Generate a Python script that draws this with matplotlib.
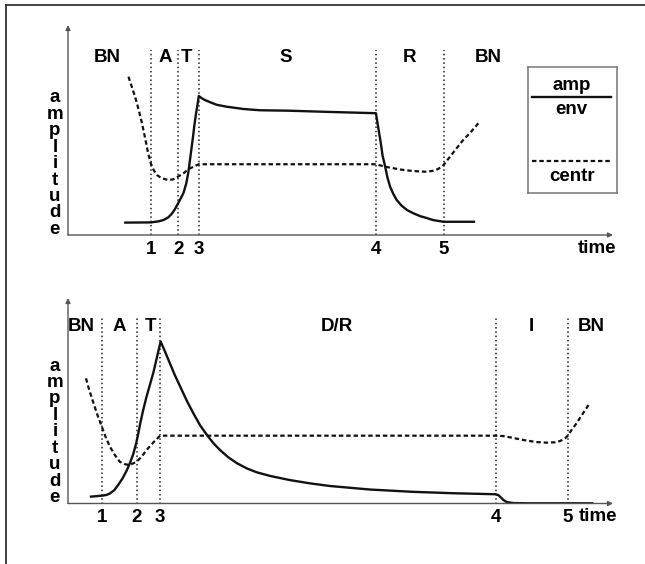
import matplotlib
matplotlib.use("Agg")
import matplotlib.pyplot as plt
from matplotlib.lines import Line2D

plt.rcParams['font.family'] = ['Liberation Sans', 'DejaVu Sans']
plt.rcParams['font.weight'] = 'bold'

# ---- top panel: sustained sound ----
top_marks = [15.2, 20.2, 24.0, 56.5, 68.9]
top_mark_labels = ['1', '2', '3', '4', '5']
top_phases = ['BN', 'A', 'T', 'S', 'R', 'BN']
top_phase_x = [7.2, 17.8, 21.8, 40.0, 62.6, 77.2]

top_env_t = [10.3, 15.2, 16.6, 17.5, 18.4, 19.0, 19.6, 20.2, 20.7, 21.2, 21.7, 22.1,
             22.5, 22.9, 23.2, 23.5, 23.8, 24.0,
             24.5, 25.1, 26.1, 27.3, 29.1, 32.2, 35.2, 40.4, 48.0, 56.5,
             56.8, 57.1, 57.4, 57.7, 58.2, 58.6, 59.1, 59.7, 60.3, 61.2, 62.2, 63.4,
             64.6, 65.8, 67.0, 68.9, 74.7]
top_env_a = [5.9, 6.0, 6.5, 7.1, 8.4, 10.0, 12.2, 15.1, 17.5, 20.1, 24.6, 30.1,
             38.1, 46.0, 52.4, 58.0, 62.7, 66.2,
             65.2, 64.3, 63.2, 62.0, 61.1, 60.0, 59.4, 59.2, 58.6, 58.0,
             53.2, 48.4, 43.7, 38.1, 32.5, 27.5, 23.0, 19.5, 16.7, 14.0, 11.9, 10.3,
             9.0, 8.1, 7.1, 6.3, 6.3]

top_cen_t = [11.1, 11.7, 12.3, 12.9, 13.5, 14.1, 14.7, 15.2, 15.7, 16.3, 17.2, 18.4,
             19.3, 20.2, 21.2, 22.1, 23.0, 24.0,
             56.5, 58.2, 59.7, 61.2, 62.8, 64.3, 65.8, 67.0, 67.9, 68.9, 70.1, 71.3,
             72.5, 73.8, 75.3]
top_cen_a = [75.4, 70.6, 65.9, 60.3, 54.0, 46.8, 38.9, 34.1, 31.0, 28.6, 27.0, 26.2,
             26.5, 27.8, 29.4, 31.3, 32.5, 33.7,
             33.7, 32.5, 31.8, 31.1, 30.6, 30.3, 30.1, 30.6, 31.4, 33.3, 37.3, 41.3,
             45.2, 48.7, 53.2]

# ---- bottom panel: percussive sound ----
bot_marks = [6.2, 12.6, 16.9, 78.5, 91.7]
bot_mark_labels = ['1', '2', '3', '4', '5']
bot_phases = ['BN', 'A', 'T', 'D/R', 'I', 'BN']
bot_phase_x = [2.4, 9.4, 15.1, 49.4, 85.0, 96.0]

bot_env_t = [4.0, 6.2, 7.1, 7.7, 8.5, 9.2, 10.0, 10.8, 11.4, 12.0, 12.5, 12.9, 13.3,
             13.8, 14.4, 15.1, 15.7, 16.2, 16.6, 17.0,
             17.8, 18.7, 19.6, 20.6, 21.8, 23.0, 24.2, 25.5, 26.7, 27.9, 29.4, 31.0,
             32.8, 34.6, 37.1, 40.7, 44.4, 48.1, 55.4, 63.1, 70.6, 78.5,
             79.0, 79.4, 79.9, 80.5, 81.7, 84.2, 96.4]
bot_env_a = [3.3, 3.8, 4.2, 4.9, 6.5, 9.0, 12.2, 16.2, 19.9, 24.3, 29.2, 34.1, 39.6,
             45.5, 51.9, 58.4, 64.1, 69.8, 74.4, 78.8,
             73.9, 68.2, 62.5, 56.8, 50.0, 43.9, 38.2, 33.3, 29.3, 26.0, 22.5, 19.6,
             17.1, 15.2, 13.4, 11.4, 9.8, 8.5, 6.8, 5.7, 5.0, 4.5,
             4.0, 3.0, 1.7, 0.7, 0.2, 0.1, 0.1]

bot_cen_t = [3.3, 3.9, 4.6, 5.4, 6.2, 7.0, 7.7, 8.6, 9.5, 10.5, 11.3, 12.0, 12.6,
             13.5, 14.7, 15.8, 16.9,
             78.5, 79.9, 81.1, 82.6, 84.2, 86.0, 87.8, 89.4, 90.3, 91.2, 91.7, 92.4,
             93.3, 94.3, 95.5]
bot_cen_a = [60.9, 55.2, 49.5, 43.1, 37.4, 31.7, 27.6, 23.6, 20.3, 19.1, 18.7, 19.6,
             20.3, 22.8, 26.9, 30.1, 33.0,
             33.0, 32.8, 32.2, 31.4, 30.6, 29.9, 29.6, 29.8, 30.4, 31.7, 33.0, 35.8,
             39.0, 43.1, 47.9]

FS = 13.5
W, H = 645, 564

fig = plt.figure(figsize=(W / 100, H / 100), dpi=100)
fig.patch.set_facecolor('white')

# frame lines of the original picture (top and left edge)
fig.add_artist(Line2D([6 / W, 1], [1 - 5 / H, 1 - 5 / H], transform=fig.transFigure,
                      color='#333333', lw=1.3))
fig.add_artist(Line2D([6 / W, 6 / W], [0, 1 - 5 / H], transform=fig.transFigure,
                      color='#333333', lw=1.3))


def draw_panel(rect, marks, mark_labels, phases, phase_x, phase_y, vtop,
               env_t, env_a, cen_t, cen_a, time_sep):
    ax = fig.add_axes(rect)
    ax.set_xlim(0, 100)
    ax.set_ylim(0, 100)
    for s in ax.spines.values():
        s.set_visible(False)
    ax.set_yticks([])
    ax.set_xticks(marks)
    ax.set_xticklabels(mark_labels, fontsize=FS, fontweight='bold')
    ax.tick_params(axis='x', length=0, pad=4)
    ax.patch.set_alpha(0)

    # axis arrows
    arr = dict(arrowstyle='-|>', lw=1.0, color='#555555', mutation_scale=7,
               shrinkA=0, shrinkB=0)
    ax.annotate('', xy=(1, 0), xytext=(0, 0), xycoords='axes fraction', arrowprops=arr)
    ax.annotate('', xy=(0, 1), xytext=(0, 0), xycoords='axes fraction', arrowprops=arr)

    ax.vlines(marks, 0, vtop, colors='#222222', lw=1.1, linestyles=(0, (1, 1.8)))

    ax.plot(cen_t, cen_a, color='#111111', lw=1.6, ls=(0, (2, 1.3)))
    ax.plot(env_t, env_a, color='#111111', lw=1.7, solid_capstyle='butt')

    for lab, x in zip(phases, phase_x):
        ax.text(x, phase_y, lab, ha='center', va='center', fontsize=FS, fontweight='bold')

    ax.text(time_sep, -0.062, 'time', transform=ax.transAxes, ha='center', va='center',
            fontsize=FS, fontweight='bold')
    ax.text(-0.024, -0.014, 'a\nm\np\nl\ni\nt\nu\nd\ne', transform=ax.transAxes,
            ha='center', va='bottom', fontsize=FS, fontweight='bold', linespacing=0.96)
    return ax


ax1 = draw_panel([68 / W, 1 - 235 / H, 545 / W, 210 / H], top_marks, top_mark_labels,
                 top_phases, top_phase_x, 84.3, 88.1,
                 top_env_t, top_env_a, top_cen_t, top_cen_a, 0.971)
ax2 = draw_panel([68 / W, 1 - 503.5 / H, 545 / W, 205.5 / H], bot_marks, bot_mark_labels,
                 bot_phases, bot_phase_x, 85.9, 90.3,
                 bot_env_t, bot_env_a, bot_cen_t, bot_cen_a, 0.973)

# legend box
lg = fig.add_axes([527.7 / W, 1 - 192.7 / H, 89 / W, 125.4 / H])
lg.set_xlim(0, 1)
lg.set_ylim(0, 1)
lg.set_xticks([])
lg.set_yticks([])
for s in lg.spines.values():
    s.set_color('#777777')
    s.set_linewidth(1.1)
lg.plot([0.05, 0.94], [0.766, 0.766], color='#111111', lw=1.7)
lg.plot([0.05, 0.94], [0.253, 0.253], color='#111111', lw=1.6, ls=(0, (2, 1.3)))
lg.text(0.494, 0.855, 'amp', ha='center', va='center', fontsize=FS, fontweight='bold')
lg.text(0.494, 0.66, 'env', ha='center', va='center', fontsize=FS, fontweight='bold')
lg.text(0.494, 0.133, 'centr', ha='center', va='center', fontsize=FS, fontweight='bold')

fig.savefig('out.png', dpi=100)
